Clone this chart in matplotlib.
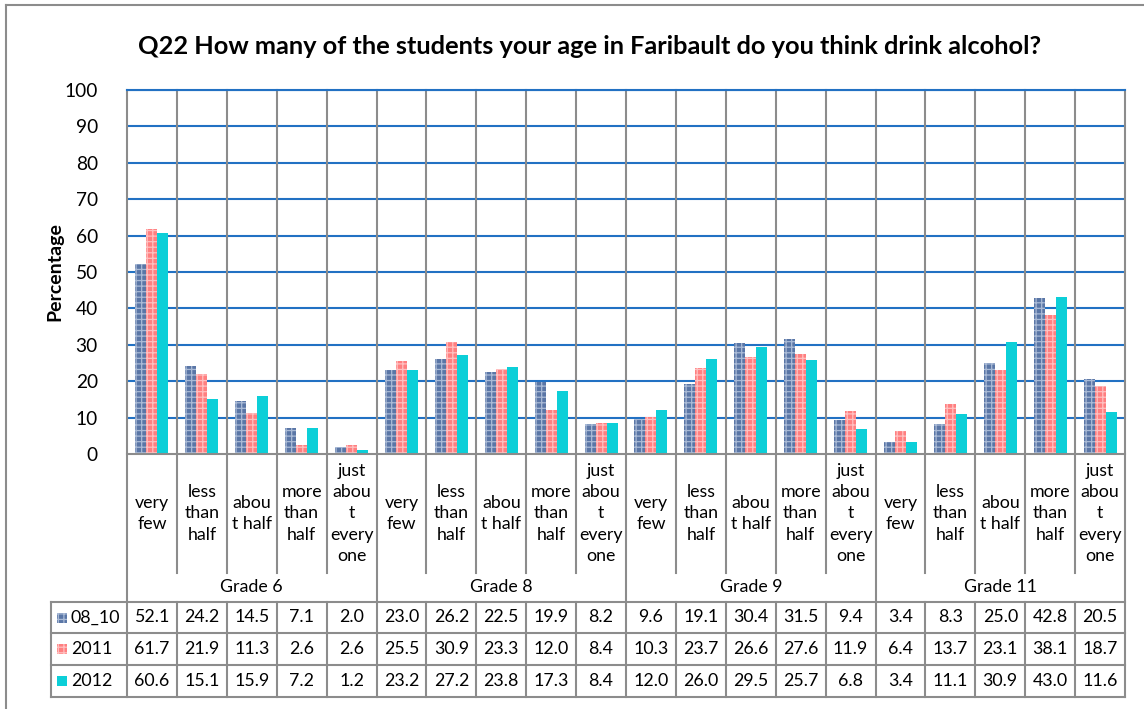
import matplotlib
matplotlib.use("Agg")
import matplotlib.pyplot as plt
from matplotlib.patches import Rectangle
import numpy as np

plt.rcParams['font.family'] = ['Lato', 'DejaVu Sans']
plt.rcParams['hatch.linewidth'] = 0.9

title = "Q22 How many of the students your age in Faribault do you think drink alcohol?"
groups = ["Grade 6", "Grade 8", "Grade 9", "Grade 11"]
answers = ["very\nfew", "less\nthan\nhalf", "abou\nt half", "more\nthan\nhalf", "just\nabou\nt\nevery\none"]
series_names = ["08_10", "2011", "2012"]
s_0810 = [52.1, 24.2, 14.5, 7.1, 2.0, 23.0, 26.2, 22.5, 19.9, 8.2,
          9.6, 19.1, 30.4, 31.5, 9.4, 3.4, 8.3, 25.0, 42.8, 20.5]
s_2011 = [61.7, 21.9, 11.3, 2.6, 2.6, 25.5, 30.9, 23.3, 12.0, 8.4,
          10.3, 23.7, 26.6, 27.6, 11.9, 6.4, 13.7, 23.1, 38.1, 18.7]
s_2012 = [60.6, 15.1, 15.9, 7.2, 1.2, 23.2, 27.2, 23.8, 17.3, 8.4,
          12.0, 26.0, 29.5, 25.7, 6.8, 3.4, 11.1, 30.9, 43.0, 11.6]
yticks = [0, 10, 20, 30, 40, 50, 60, 70, 80, 90, 100]

series = [s_0810, s_2011, s_2012]
faces = ["#5A76A6", "#FF7F80", "#0CCFD8"]
hatch_cols = ["#A9BAD6", "#FFC0C0", None]
hatches = ["+++", "+++", None]

FS = 12.8      # category/table text
FS_TICK = 13.8

W, H = 1144, 709
fig = plt.figure(figsize=(W / 100, H / 100), dpi=100)

# plot area in pixels
L, R, T, B = 127, 1125, 90, 454
ax = fig.add_axes([L / W, 1 - B / H, (R - L) / W, (B - T) / H])
n = len(s_0810)
x = np.arange(n)
ax.set_xlim(-0.5, n - 0.5)
ax.set_ylim(0, 100)

def ya(ypx):
    return (B - ypx) / (B - T)

grid_blue = "#2271C3"
gray = "#8C8C8C"

# horizontal gridlines
for v in yticks[1:]:
    ax.axhline(v, color=grid_blue, lw=1.5, zorder=1)

bw = 0.22
for k, (vals, fc, hc, hh) in enumerate(zip(series, faces, hatch_cols, hatches)):
    if hh:
        ax.bar(x + (k - 1) * bw, vals, bw, color=fc, edgecolor=hc, hatch=hh,
               linewidth=0, zorder=2)
    else:
        ax.bar(x + (k - 1) * bw, vals, bw, color=fc, linewidth=0, zorder=2)

for s in ax.spines.values():
    s.set_visible(False)
ax.set_xticks([])
ax.set_yticks(yticks)
ax.set_yticklabels([str(v) for v in yticks], fontsize=FS_TICK)
ax.tick_params(axis='y', length=0, pad=21)

tr = ax.get_xaxis_transform()

# category boundary lines
y_lab_bot = ya(573)
y_grp_bot = ya(602)
y_rows = [ya(602), ya(633), ya(665), ya(697)]
for i in range(n + 1):
    xb = i - 0.5
    if i % 5 == 0:
        y0 = y_rows[-1]
    else:
        y0 = y_lab_bot
    ax.plot([xb, xb], [1, y0], color=gray, lw=1.5, transform=tr, clip_on=False, zorder=3)
    if i % 5 != 0:
        ax.plot([xb, xb], [y_grp_bot, y_rows[-1]], color=gray, lw=1.5, transform=tr,
                clip_on=False, zorder=3)

# axis line at 0 and top
ax.plot([-0.5, n - 0.5], [0, 0], color=gray, lw=1.5, transform=tr, clip_on=False, zorder=3)
ax.plot([-0.5, n - 0.5], [1, 1], color=grid_blue, lw=1.5, transform=tr, clip_on=False, zorder=3)

# category labels
for i in range(n):
    ax.text(i, (ya(454) + y_lab_bot) / 2, answers[i % 5], ha='center', va='center',
            fontsize=FS, linespacing=1.42, transform=tr, clip_on=False)

# group labels
for g, name in enumerate(groups):
    ax.text(g * 5 + 2, (y_lab_bot + y_grp_bot) / 2, name, ha='center', va='center',
            fontsize=FS, transform=tr, clip_on=False)

# table
px_per = (R - L) / n
x_tab_left = -0.5 - (L - 51) / px_per
for yr in y_rows:
    ax.plot([x_tab_left, n - 0.5], [yr, yr], color=gray, lw=1.5, transform=tr,
            clip_on=False, zorder=3)
ax.plot([x_tab_left, x_tab_left], [y_rows[0], y_rows[-1]], color=gray, lw=1.5,
        transform=tr, clip_on=False, zorder=3)

sq_w = 10 / px_per
for k, (vals, name) in enumerate(zip(series, series_names)):
    yc = (y_rows[k] + y_rows[k + 1]) / 2
    for i in range(n):
        ax.text(i, yc, f"{vals[i]:.1f}", ha='center', va='center', fontsize=FS,
                transform=tr, clip_on=False)
    sq_h = 10 / (B - T)
    rect = Rectangle((x_tab_left + 6 / px_per, yc - sq_h / 2), sq_w, sq_h,
                     transform=tr, clip_on=False, facecolor=faces[k],
                     edgecolor=hatch_cols[k] if hatches[k] else faces[k],
                     hatch=hatches[k], linewidth=0)
    ax.add_patch(rect)
    ax.text(x_tab_left + 20 / px_per, yc, name, ha='left', va='center', fontsize=FS,
            transform=tr, clip_on=False)

# y label
fig.text(55 / W, 1 - 272 / H, "Percentage", rotation=90, ha='center', va='center',
         fontsize=14, fontweight='bold')

# title
fig.text(590 / W, 1 - 46 / H, title, ha='center', va='center', fontsize=18.3,
         fontweight='bold')

# outer frame (left and top visible)
fig.add_artist(plt.Line2D([6 / W, 6 / W], [0, 1 - 5 / H], color="#8C8C8C", lw=1.5,
                          transform=fig.transFigure))
fig.add_artist(plt.Line2D([6 / W, 1], [1 - 5 / H, 1 - 5 / H], color="#8C8C8C", lw=1.5,
                          transform=fig.transFigure))

fig.savefig("out.png", dpi=100, facecolor="white")
